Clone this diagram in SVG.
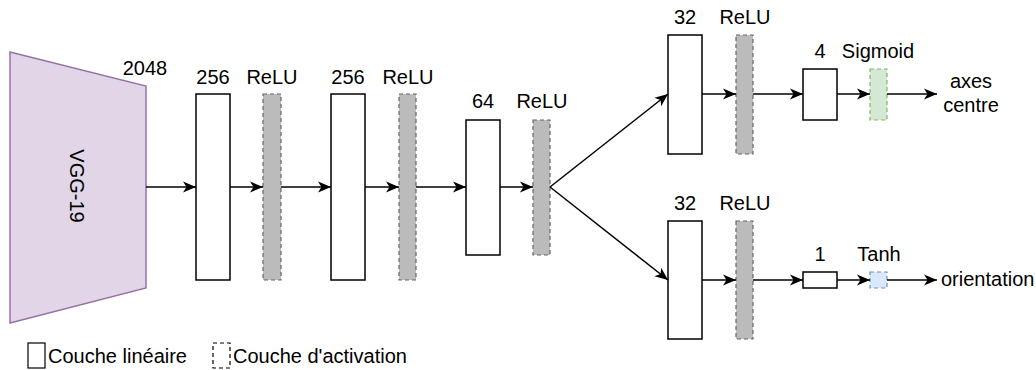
<svg xmlns="http://www.w3.org/2000/svg" width="1036" height="370" viewBox="0 0 1036 370">
<defs>
<marker id="arr" markerUnits="userSpaceOnUse" markerWidth="14" markerHeight="12" refX="13" refY="6" orient="auto">
<path d="M0,0.5 L13,6 L0,11.5 L3.5,6 Z" fill="#000"/>
</marker>
<style>
text{font-family:"Liberation Sans",Arial,sans-serif;font-size:20px;fill:#000}
.lin{fill:#fff;stroke:#000;stroke-width:1.5}
.act{fill:#bbbbbb;stroke:#666;stroke-width:1.2;stroke-dasharray:4 3}
.sig{fill:#d5e8d4;stroke:#82b366;stroke-width:1.2;stroke-dasharray:4 3}
.tanh{fill:#dae8fc;stroke:#6c8ebf;stroke-width:1.2;stroke-dasharray:4 3}
.c{stroke:#000;stroke-width:1.5;fill:none;marker-end:url(#arr)}
.m{text-anchor:middle}
</style>
</defs>
<g id="vgg">
<polygon points="10,52 146,86 146,288 10,323" fill="#e1d5e7" stroke="#9673a6" stroke-width="1.5"/>
<text class="m" transform="translate(77,186) rotate(90)" dominant-baseline="central">VGG-19</text>
<text class="m" x="145" y="75">2048</text>
</g>
<g id="fc1"><rect class="lin" x="196" y="94" width="34" height="186"/><text class="m" x="213" y="84">256</text></g>
<g id="relu1"><rect class="act" x="263" y="94" width="18" height="186"/><text class="m" x="272" y="84">ReLU</text></g>
<g id="fc2"><rect class="lin" x="331" y="94" width="34" height="186"/><text class="m" x="348" y="84">256</text></g>
<g id="relu2"><rect class="act" x="399" y="94" width="17" height="186"/><text class="m" x="408" y="84">ReLU</text></g>
<g id="fc3"><rect class="lin" x="466" y="120" width="34" height="135"/><text class="m" x="483" y="108">64</text></g>
<g id="relu3"><rect class="act" x="533" y="120" width="17" height="135"/><text class="m" x="542" y="108">ReLU</text></g>
<g id="fc4a"><rect class="lin" x="668" y="35" width="34" height="119"/><text class="m" x="685" y="24">32</text></g>
<g id="relu4a"><rect class="act" x="736" y="35" width="17" height="119"/><text class="m" x="745" y="24">ReLU</text></g>
<g id="fc5a"><rect class="lin" x="803" y="69" width="34" height="51"/><text class="m" x="820" y="58">4</text></g>
<g id="sigmoid"><rect class="sig" x="870" y="69" width="17" height="51"/><text class="m" x="878" y="58">Sigmoid</text></g>
<g id="out1"><text class="m" x="971" y="88">axes</text><text class="m" x="971" y="112">centre</text></g>
<g id="fc4b"><rect class="lin" x="668" y="221" width="34" height="118"/><text class="m" x="685" y="210">32</text></g>
<g id="relu4b"><rect class="act" x="736" y="221" width="17" height="118"/><text class="m" x="745" y="210">ReLU</text></g>
<g id="fc5b"><rect class="lin" x="803" y="272" width="34" height="16"/><text class="m" x="820" y="261">1</text></g>
<g id="tanh"><rect class="tanh" x="870" y="272" width="17" height="16"/><text class="m" x="879" y="261">Tanh</text></g>
<g id="out2"><text x="941" y="286">orientation</text></g>
<g id="connectors">
<line class="c" x1="146" y1="187" x2="196" y2="187"/>
<line class="c" x1="230" y1="187" x2="263" y2="187"/>
<line class="c" x1="281" y1="187" x2="331" y2="187"/>
<line class="c" x1="365" y1="187" x2="399" y2="187"/>
<line class="c" x1="416" y1="187" x2="466" y2="187"/>
<line class="c" x1="500" y1="187" x2="533" y2="187"/>
<line class="c" x1="550" y1="187" x2="668" y2="94"/>
<line class="c" x1="550" y1="187" x2="668" y2="280"/>
<line class="c" x1="702" y1="94" x2="736" y2="94"/>
<line class="c" x1="753" y1="94" x2="803" y2="94"/>
<line class="c" x1="837" y1="94" x2="870" y2="94"/>
<line class="c" x1="887" y1="94" x2="937" y2="94"/>
<line class="c" x1="702" y1="280" x2="736" y2="280"/>
<line class="c" x1="753" y1="280" x2="803" y2="280"/>
<line class="c" x1="837" y1="280" x2="870" y2="280"/>
<line class="c" x1="887" y1="280" x2="937" y2="280"/>
</g>
<g id="legend">
<rect x="28" y="343" width="17" height="25" fill="#fff" stroke="#000" stroke-width="1.2"/>
<text x="48" y="363">Couche linéaire</text>
<rect x="213" y="343" width="17" height="25" fill="#fff" stroke="#000" stroke-width="1.2" stroke-dasharray="4 3"/>
<text x="233" y="363">Couche d'activation</text>
</g>
</svg>
